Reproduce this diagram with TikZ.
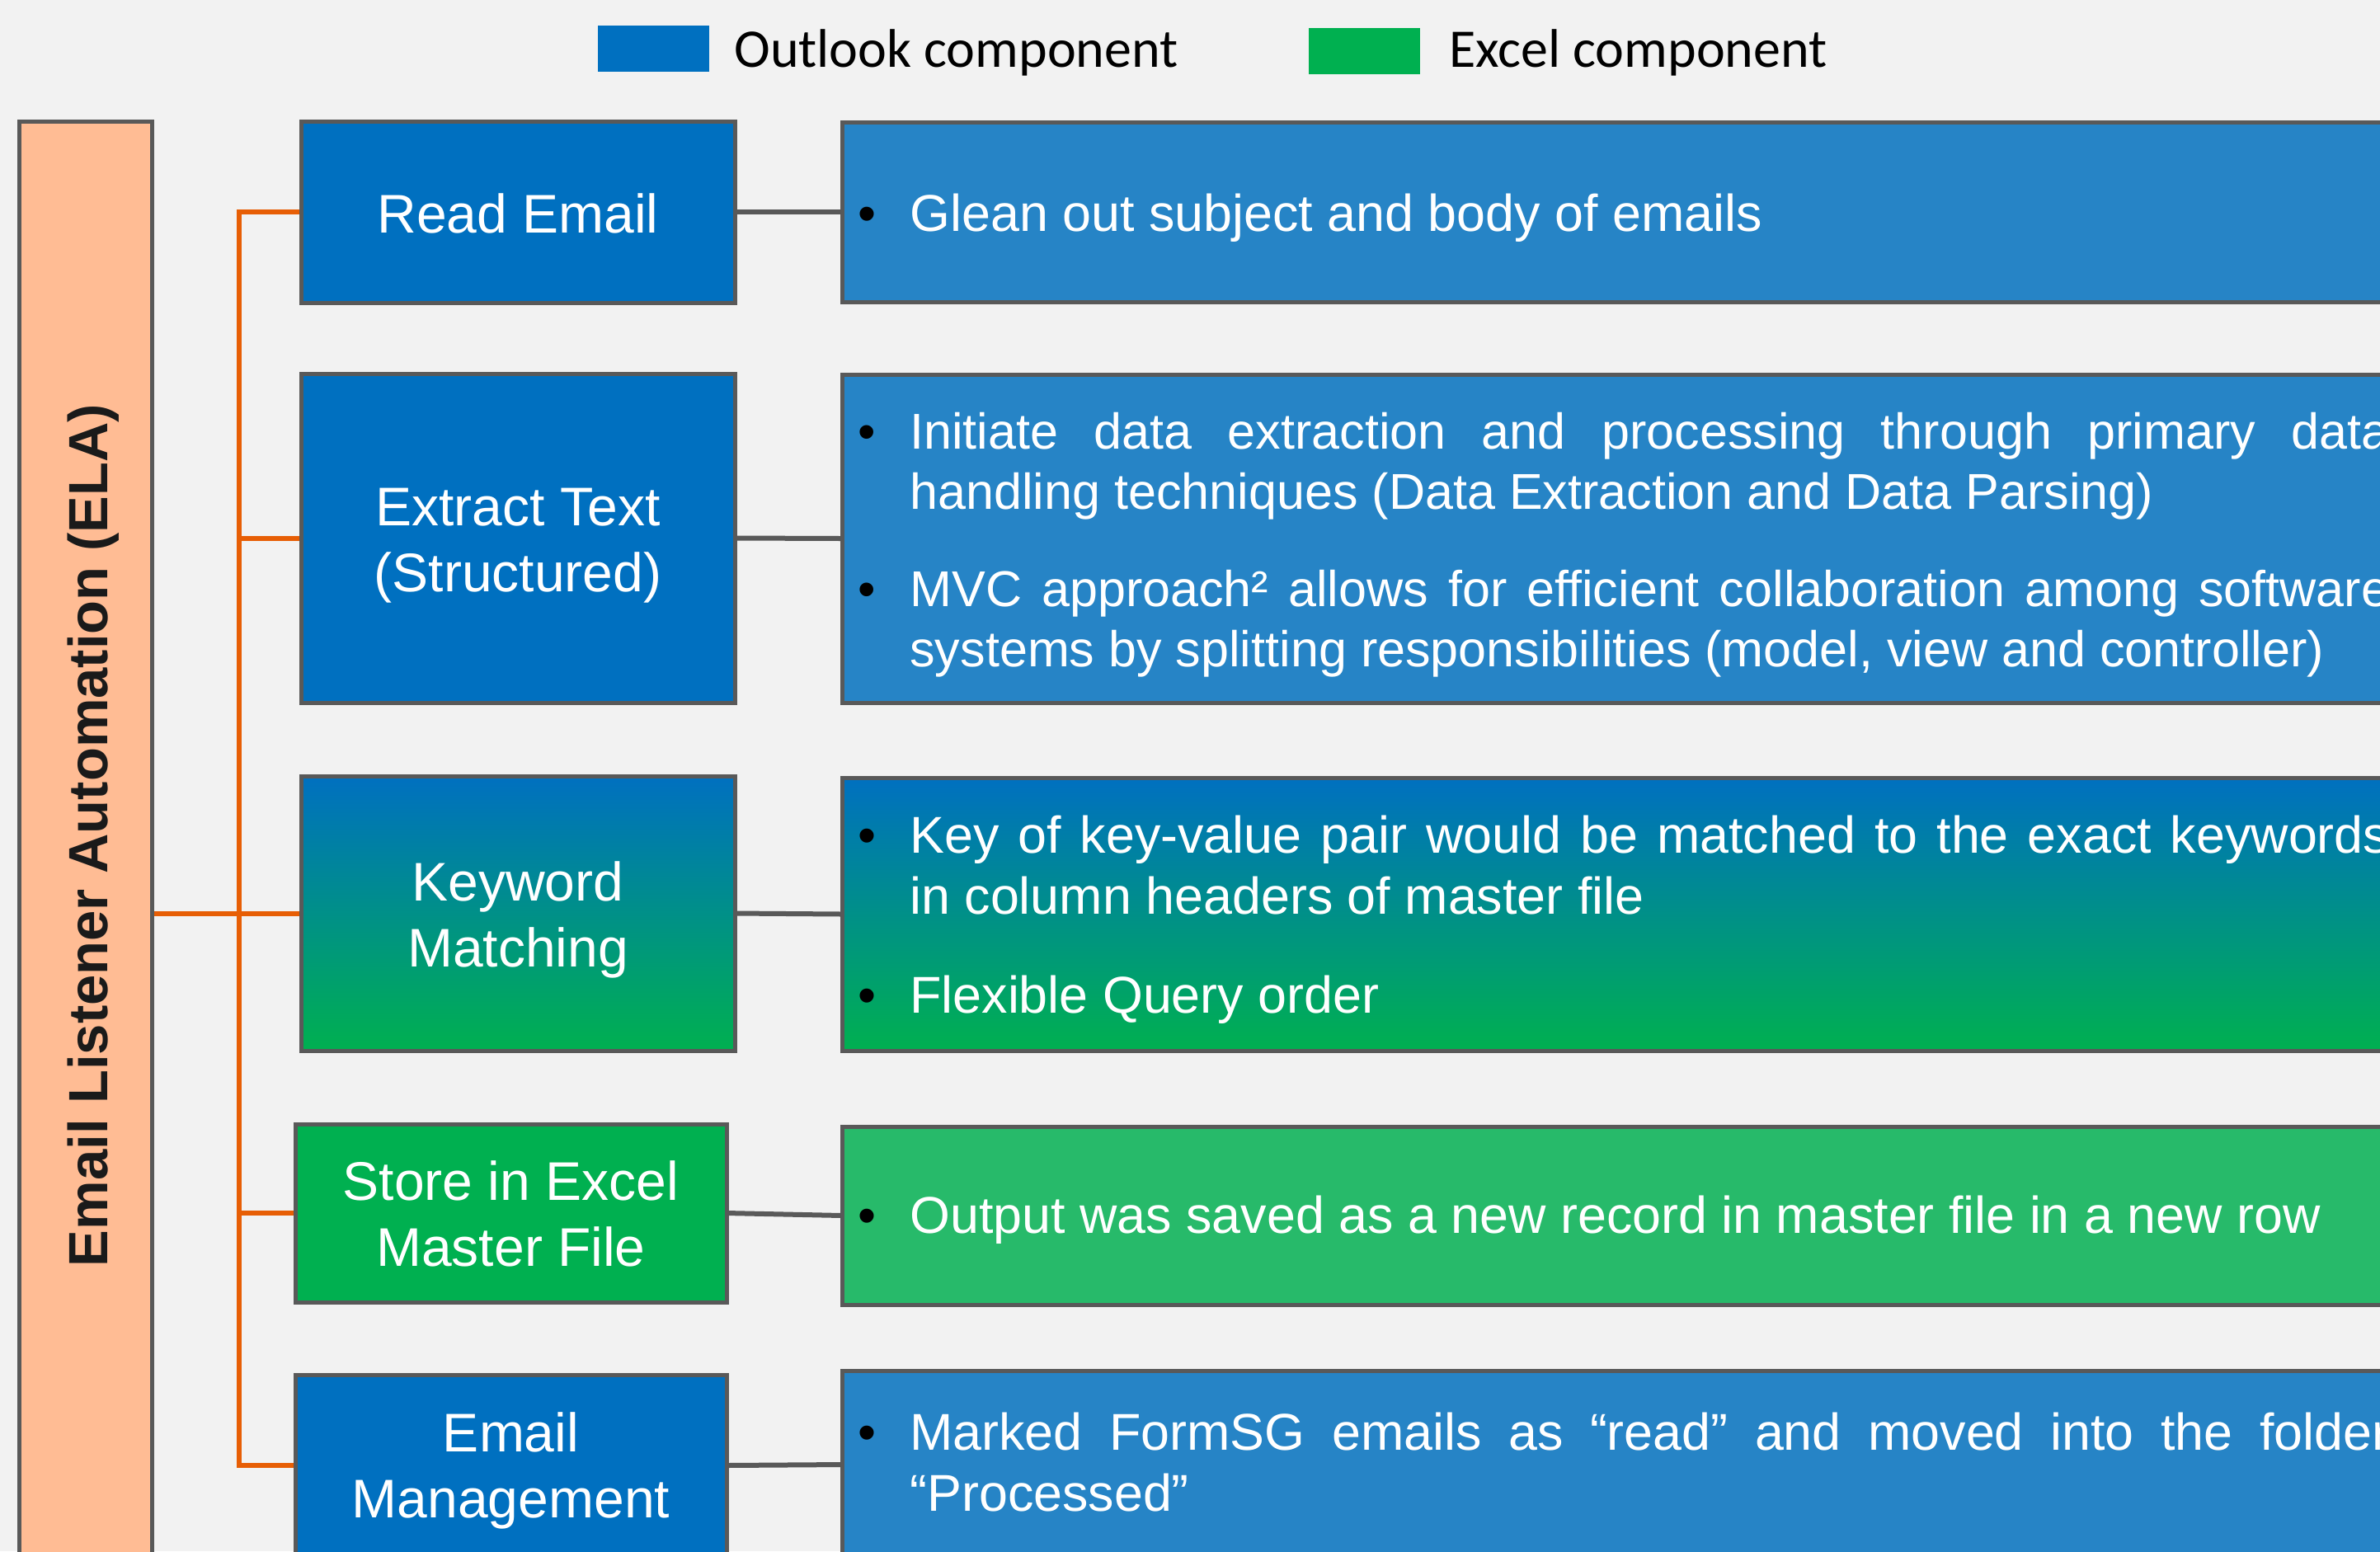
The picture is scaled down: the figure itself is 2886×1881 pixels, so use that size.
\documentclass[tikz,border=0pt]{standalone}
\usepackage{fontspec}
\setmainfont{Liberation Sans}
\newfontfamily\legendfont{Carlito}
\usetikzlibrary{calc}
\definecolor{bg}{HTML}{F2F2F2}
\definecolor{olblue}{HTML}{0070C0}
\definecolor{xlgreen}{HTML}{00B050}
\definecolor{descblue}{HTML}{2684C6}
\definecolor{descgreen}{HTML}{27BA6A}
\definecolor{elafill}{HTML}{FFBC94}
\definecolor{edge}{HTML}{595959}
\definecolor{orangeln}{HTML}{E75E05}
\definecolor{elatext}{HTML}{1A1A1A}
\pgfdeclarelayer{back}
\pgfdeclarelayer{mid}
\pgfsetlayers{back,mid,main}
\newcommand\bul{\llap{\makebox[31.5pt][l]{\textcolor{black}{•}}}}
\newcommand\dtwo[2]{\vtop{\hbox to 897pt{\bul #1}\hbox{#2}}}
\newcommand\ltwo[2]{\vtop{\hbox to 0pt{\hss#1\hss}\hbox to 0pt{\hss#2\hss}}}
\tikzset{
  box/.style={draw=edge, line width=2.5pt, inner sep=0pt, outer sep=0pt},
  lbl/.style={text=white, font=\fontsize{33}{40}\selectfont, inner sep=0pt, anchor=base},
  desc/.style={text=white, font=\fontsize{31.4}{37}\selectfont, inner sep=0pt, anchor=base west},
  descsmall/.style={desc, font=\fontsize{30.55}{36.5}\selectfont},
  legtext/.style={text=black, font=\legendfont\fontsize{33}{40}\selectfont, inner sep=0pt, anchor=base west},
  swatch/.style={inner sep=0pt, outer sep=0pt, minimum width=67.5pt, minimum height=28pt},
  grayln/.style={draw=edge, line width=3pt},
  orln/.style={draw=orangeln, line width=3pt},
}
\begin{document}
\begin{tikzpicture}[x=0.5pt, y=-0.5pt]
\useasboundingbox (0,0) rectangle (2886,1881);
\begin{pgfonlayer}{back}
\fill[bg] (0,0) rectangle (2886,1881);
\end{pgfonlayer}

% legend
\node[swatch, fill=olblue] (legO) at (792.5,59) {};
\node[legtext] (legOt) at (890,81) {Outlook component};
\node[swatch, fill=xlgreen] (legX) at (1654.5,62) {};
\node[legtext] (legXt) at (1757,81) {Excel component};

% ELA bar
\node[box, fill=elafill, minimum width=80.5pt, minimum height=871.5pt] (ela) at (103.5,1018.5) {};
\node[rotate=90, anchor=base, inner sep=0pt, text=elatext,
      font=\bfseries\fontsize{33.5}{40}\selectfont] (elaT) at (130,1013) {Email Listener Automation (ELA)};

% left boxes
\node[box, fill=olblue, minimum width=263pt, minimum height=110pt] (read) at (628,257) {};
\node[box, fill=olblue, minimum width=263pt, minimum height=199.5pt] (extract) at (628,652.5) {};
\node[box, top color=olblue, bottom color=xlgreen, minimum width=263pt, minimum height=166.5pt] (kw) at (628,1107.5) {};
\node[box, fill=xlgreen, minimum width=261.5pt, minimum height=108pt] (store) at (619.5,1471) {};
\node[box, fill=olblue, minimum width=261.5pt, minimum height=110pt] (email) at (619.5,1777) {};

\node[lbl] (readL) at (628,282) {Read Email};
\node[lbl] (extractL) at (628,637) {\ltwo{Extract Text}{(Structured)}};
\node[lbl] (kwL) at (628,1092) {\ltwo{Keyword}{Matching}};
\node[lbl] (storeL) at (619.5,1455) {\ltwo{Store in Excel}{Master File}};
\node[lbl] (emailL) at (619.5,1760) {\ltwo{Email}{Management}};

% right boxes
\node[box, fill=descblue, minimum width=969.5pt, minimum height=109pt] (readR) at (1990.5,257) {};
\node[box, fill=descblue, minimum width=969.5pt, minimum height=199pt] (extractR) at (1990.5,653) {};
\node[box, top color=olblue, bottom color=xlgreen, minimum width=969.5pt, minimum height=165.5pt] (kwR) at (1990.5,1108.5) {};
\node[box, fill=descgreen, minimum width=969.5pt, minimum height=108pt] (storeR) at (1990.5,1474) {};
\node[box, fill=descblue, minimum width=969.5pt, minimum height=114pt] (emailR) at (1990.5,1776) {};

\node[desc] (readD) at (1103,280) {\bul Glean out subject and body of emails};
\node[descsmall] (extractD1) at (1103,544) {\dtwo{Initiate data extraction and processing through primary data}{handling techniques (Data Extraction and Data Parsing)}};
\node[descsmall] (extractD2) at (1103,735) {\dtwo{MVC approach² allows for efficient collaboration among software}{systems by splitting responsibilities (model, view and controller)}};
\node[desc] (kwD1) at (1103,1034) {\dtwo{Key of key-value pair would be matched to the exact keywords}{in column headers of master file}};
\node[desc] (kwD2) at (1103,1228) {\bul Flexible Query order};
\node[desc] (storeD) at (1103,1495) {\bul Output was saved as a new record in master file in a new row};
\node[desc] (emailD) at (1103,1758) {\dtwo{Marked FormSG emails as “read” and moved into the folder}{“Processed”}};

% connectors
\begin{pgfonlayer}{mid}
\draw[grayln] (read.east) -- (readR.west);
\draw[grayln] (extract.east) -- (extractR.west);
\draw[grayln] (kw.east) -- (kwR.west);
\draw[grayln] (store.east) -- (storeR.west);
\draw[grayln] (email.east) -- (emailR.west);
\coordinate (hub) at (290,1107.5);
\draw[orln] (ela.east |- kw.west) -- (kw.west);
\draw[orln] (hub) |- (read.west);
\draw[orln] (hub) |- (extract.west);
\draw[orln] (hub) |- (store.west);
\draw[orln] (hub) |- (email.west);
\end{pgfonlayer}
\end{tikzpicture}
\end{document}
